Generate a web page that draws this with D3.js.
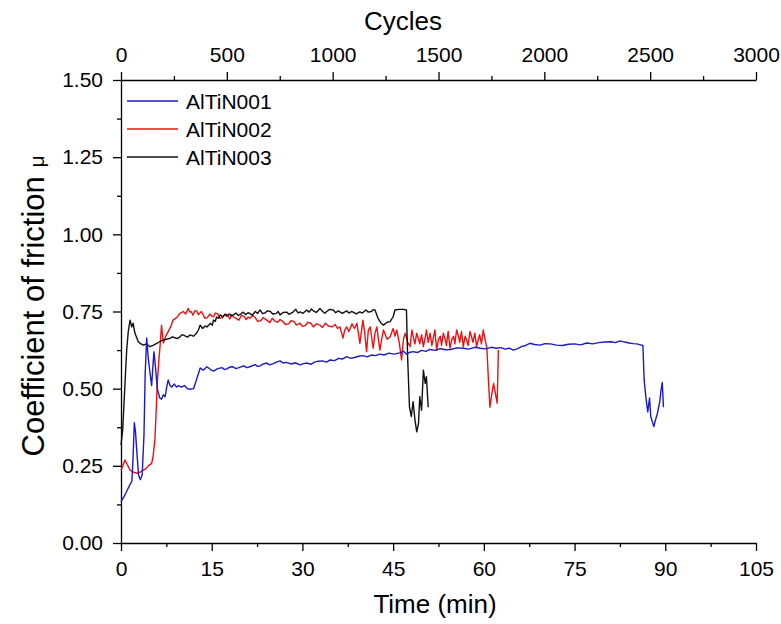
<!DOCTYPE html>
<html><head><meta charset="utf-8">
<script src="https://cdn.jsdelivr.net/npm/d3@7"></script>
<style>body{margin:0;background:#fff}svg{display:block}text{font-family:"Liberation Sans",Arial,sans-serif}</style>
</head><body>
<svg id="c" width="781" height="624"></svg>
<script>
const seriesNames = ["AlTiN001","AlTiN002","AlTiN003"];
const seriesColors = ["#1a1acc","#ee1111","#111111"];
const timeTicks = [0,15,30,45,60,75,90,105];
const cycleTicks = [0,500,1000,1500,2000,2500,3000];
const muTicks = [0,0.25,0.5,0.75,1.0,1.25,1.5];

const blue = [[0,0.134],[0.5,0.15],[1,0.17],[1.5,0.19],[1.8,0.2],[2.0,0.28],[2.2,0.39],[2.4,0.36],[2.6,0.30],[2.9,0.22],[3.2,0.205],[3.5,0.22],[3.8,0.35],[4.0,0.55],[4.25,0.664],[4.5,0.60],[4.8,0.55],[5.07,0.51],[5.3,0.58],[5.45,0.62],[5.7,0.57],[6.0,0.50],[6.4,0.47],[6.7,0.466],[7.0,0.48],[7.3,0.474],[7.6,0.51],[7.8,0.528],[8.1,0.51],[8.4,0.505],[8.8,0.515],[9.2,0.505],[9.5,0.51],[10,0.505],[10.5,0.51],[11,0.50],[11.4,0.498],[12,0.50],[12.5,0.53],[13.1,0.567],[13.6,0.56],[14.2,0.571],[14.8,0.562],[15.3,0.557],[16,0.565],[16.7,0.568],[17.1,0.562],[17.5,0.564],[18.0,0.57],[18.5,0.571],[19.0,0.565],[19.5,0.568],[20.3,0.574],[20.8,0.568],[21.3,0.571],[22.2,0.578],[22.6,0.572],[23,0.574],[23.5,0.58],[24.1,0.583],[24.6,0.577],[25.2,0.581],[25.7,0.586],[26.3,0.59],[26.8,0.583],[27.3,0.585],[28.2,0.58],[28.8,0.584],[29.6,0.577],[30.2,0.581],[30.8,0.583],[31.4,0.579],[32,0.586],[32.6,0.589],[33.3,0.59],[34,0.586],[34.6,0.593],[35.3,0.591],[36,0.598],[36.6,0.596],[37.3,0.604],[38,0.598],[38.6,0.601],[39.3,0.605],[40,0.607],[40.7,0.603],[41.4,0.609],[42.1,0.607],[42.8,0.612],[43.5,0.609],[44.3,0.615],[45.2,0.612],[46.1,0.616],[46.7,0.621],[47.2,0.612],[47.8,0.618],[48.3,0.62],[49,0.617],[49.7,0.624],[50.4,0.621],[51.1,0.627],[52,0.624],[52.8,0.63],[53.6,0.626],[54.5,0.627],[55.5,0.632],[56.6,0.631],[57.5,0.628],[58.5,0.634],[59.4,0.631],[60.3,0.629],[61.2,0.634],[62.1,0.631],[62.8,0.633],[63.5,0.628],[64.2,0.631],[64.9,0.625],[65.6,0.63],[66.2,0.636],[66.9,0.64],[67.6,0.647],[68.4,0.643],[69.3,0.641],[70.1,0.646],[71,0.645],[72,0.641],[73,0.64],[74,0.644],[75,0.645],[76,0.642],[77,0.648],[78,0.645],[79,0.649],[80,0.651],[81,0.652],[81.8,0.649],[82.5,0.655],[83.3,0.651],[84,0.648],[84.7,0.646],[85.3,0.645],[85.9,0.642],[86.3,0.64],[86.5,0.53],[86.8,0.47],[87.1,0.425],[87.4,0.47],[87.6,0.41],[88.1,0.377],[88.4,0.40],[88.7,0.42],[89.1,0.46],[89.3,0.496],[89.5,0.52],[89.7,0.44]];

const red = [[0,0.236],[0.3,0.25],[0.66,0.269],[1.0,0.255],[1.5,0.236],[2.0,0.23],[2.6,0.226],[3.2,0.23],[3.7,0.236],[4.1,0.24],[4.5,0.25],[5.07,0.258],[5.3,0.28],[5.6,0.334],[5.8,0.42],[6.0,0.518],[6.25,0.59],[6.45,0.636],[6.7,0.706],[7.0,0.648],[7.4,0.67],[7.8,0.685],[8.2,0.70],[8.6,0.722],[9.2,0.73],[9.75,0.744],[10.3,0.75],[10.7,0.742],[11.1,0.76],[11.4,0.748],[11.6,0.75],[11.9,0.738],[12.2,0.752],[12.5,0.752],[12.8,0.74],[13.0,0.744],[13.3,0.75],[13.6,0.738],[13.9,0.728],[14.3,0.73],[14.7,0.742],[15.0,0.735],[15.3,0.733],[15.6,0.745],[16,0.742],[16.4,0.728],[16.8,0.73],[17.2,0.742],[17.6,0.738],[18.0,0.726],[18.3,0.74],[18.6,0.733],[19.0,0.728],[19.5,0.722],[19.9,0.738],[20.3,0.735],[20.7,0.724],[21.0,0.732],[21.3,0.728],[21.8,0.737],[22.2,0.73],[22.6,0.718],[23.1,0.72],[23.5,0.73],[23.8,0.726],[24.1,0.722],[24.6,0.714],[25,0.728],[25.4,0.72],[25.9,0.715],[26.3,0.724],[26.8,0.717],[27.2,0.708],[27.7,0.71],[28.1,0.72],[28.6,0.718],[29.0,0.706],[29.6,0.712],[30.0,0.702],[30.5,0.705],[30.9,0.715],[31.4,0.712],[31.8,0.7],[32.3,0.71],[32.9,0.706],[33.3,0.698],[33.8,0.712],[34.3,0.703],[34.9,0.70],[35.4,0.708],[35.8,0.695],[36.2,0.70],[36.7,0.664],[37.0,0.69],[37.3,0.70],[37.7,0.685],[38.2,0.71],[38.6,0.695],[39,0.712],[39.5,0.647],[40,0.722],[40.3,0.68],[40.6,0.62],[40.9,0.69],[41.2,0.70],[41.7,0.631],[42.0,0.68],[42.3,0.70],[42.8,0.625],[43.1,0.66],[43.4,0.69],[43.7,0.675],[44,0.66],[44.5,0.668],[45,0.695],[45.3,0.67],[45.6,0.69],[46.0,0.65],[46.4,0.593],[46.7,0.66],[47,0.68],[47.4,0.65],[47.8,0.636],[48.1,0.69],[48.3,0.67],[48.6,0.645],[48.9,0.68],[49.2,0.66],[49.4,0.645],[49.7,0.675],[50,0.636],[50.3,0.665],[50.5,0.69],[50.8,0.65],[51.1,0.68],[51.4,0.64],[51.6,0.66],[51.9,0.69],[52.2,0.625],[52.5,0.66],[52.8,0.67],[53.0,0.64],[53.3,0.68],[53.6,0.66],[53.8,0.64],[54.1,0.685],[54.4,0.631],[54.7,0.66],[55,0.67],[55.2,0.645],[55.5,0.69],[55.8,0.67],[56,0.65],[56.3,0.685],[56.6,0.636],[56.9,0.67],[57.1,0.66],[57.4,0.64],[57.7,0.685],[58.0,0.665],[58.2,0.65],[58.5,0.68],[58.8,0.636],[59.1,0.66],[59.3,0.675],[59.6,0.645],[59.9,0.69],[60.2,0.66],[60.5,0.631],[60.7,0.55],[61,0.44],[61.3,0.48],[61.6,0.517],[61.8,0.496],[62.2,0.453],[62.4,0.625]];

const black = [[0,0.317],[0.28,0.366],[0.66,0.517],[0.94,0.625],[1.2,0.685],[1.5,0.722],[1.77,0.70],[2.0,0.712],[2.3,0.68],[2.86,0.652],[3.3,0.645],[3.7,0.641],[4.2,0.645],[4.8,0.636],[5.3,0.64],[5.9,0.647],[6.4,0.652],[7,0.658],[7.5,0.66],[8.1,0.663],[8.5,0.668],[8.9,0.665],[9.3,0.662],[9.75,0.668],[10.1,0.675],[10.5,0.672],[11.0,0.667],[11.4,0.674],[12,0.67],[12.5,0.68],[12.8,0.69],[13.1,0.706],[13.5,0.695],[13.9,0.703],[14.2,0.70],[14.6,0.708],[14.8,0.712],[15.1,0.705],[15.3,0.722],[15.6,0.718],[15.8,0.732],[16.1,0.728],[16.4,0.739],[16.8,0.733],[17.2,0.74],[17.5,0.735],[17.9,0.742],[18.3,0.736],[18.6,0.739],[19.0,0.745],[19.4,0.737],[19.8,0.742],[20.2,0.748],[20.6,0.74],[21.0,0.746],[21.3,0.744],[21.7,0.738],[22.2,0.75],[22.6,0.744],[23,0.755],[23.4,0.743],[23.8,0.745],[24.2,0.752],[24.7,0.75],[25.1,0.742],[25.7,0.744],[26.0,0.75],[26.3,0.739],[26.8,0.747],[27.4,0.748],[27.8,0.741],[28.5,0.749],[28.9,0.757],[29.3,0.745],[29.6,0.749],[30.1,0.744],[30.7,0.755],[31.1,0.748],[31.5,0.758],[31.8,0.752],[32.3,0.747],[32.9,0.76],[33.3,0.751],[33.7,0.744],[34,0.75],[34.5,0.757],[35.1,0.755],[35.5,0.746],[35.9,0.752],[36.2,0.749],[36.6,0.744],[37.3,0.752],[37.7,0.745],[38.1,0.75],[38.4,0.748],[38.9,0.742],[39.5,0.749],[39.9,0.745],[40.5,0.755],[40.9,0.748],[41.4,0.75],[41.7,0.756],[42,0.755],[42.5,0.728],[43.0,0.712],[43.4,0.706],[44,0.715],[44.5,0.717],[45,0.733],[45.3,0.755],[46,0.757],[46.7,0.757],[47.2,0.755],[47.4,0.60],[47.7,0.44],[48,0.41],[48.3,0.458],[48.6,0.40],[48.9,0.36],[49.2,0.388],[49.4,0.474],[49.7,0.43],[50,0.56],[50.3,0.517],[50.5,0.539],[50.8,0.44]];

const svg = d3.select("#c");
const L = 121, R = 756, T = 80, B = 543;
const x = d3.scaleLinear().domain([0,105]).range([L,R]);
const xc = d3.scaleLinear().domain([0,3000]).range([L,R]);
const y = d3.scaleLinear().domain([0,1.5]).range([B,T]);
const FONT = "Liberation Sans, Arial, sans-serif";

function styleAxis(g, size){
  g.selectAll("path").attr("stroke","#000").attr("stroke-width",1.3);
  g.selectAll("line").attr("stroke","#000").attr("stroke-width",1.3);
  g.selectAll("text").attr("font-size",size).attr("fill","#000").attr("font-family",FONT);
}
// minor ticks
const gxm = svg.append("g").attr("transform",`translate(0,${B})`)
  .call(d3.axisBottom(x).tickValues(d3.range(7.5,105,15)).tickSize(4).tickFormat(""));
const gx = svg.append("g").attr("transform",`translate(0,${B})`)
  .call(d3.axisBottom(x).tickValues(timeTicks).tickSize(8).tickPadding(10).tickSizeOuter(0).tickFormat(d3.format("d")));
const gtm = svg.append("g").attr("transform",`translate(0,${T})`)
  .call(d3.axisTop(xc).tickValues(d3.range(250,3000,500)).tickSize(4).tickFormat(""));
const gt = svg.append("g").attr("transform",`translate(0,${T})`)
  .call(d3.axisTop(xc).tickValues(cycleTicks).tickSize(8).tickPadding(10).tickSizeOuter(0).tickFormat(d3.format("d")));
const gym = svg.append("g").attr("transform",`translate(${L},0)`)
  .call(d3.axisLeft(y).tickValues(d3.range(0.125,1.5,0.25)).tickSize(4).tickFormat(""));
const gy = svg.append("g").attr("transform",`translate(${L},0)`)
  .call(d3.axisLeft(y).tickValues(muTicks).tickSize(8).tickPadding(10).tickSizeOuter(0).tickFormat(d3.format(".2f")));
[gxm,gtm,gym].forEach(g=>{styleAxis(g,0);g.select("path").remove();});
[gx,gt,gy].forEach(g=>styleAxis(g,21));

const line = d3.line().x(d=>x(d[0])).y(d=>y(d[1]));
const data = [red, black, blue];
const cols = [seriesColors[1], seriesColors[2], seriesColors[0]];
data.forEach((s,i)=>{
  svg.append("path").datum(s).attr("d",line).attr("fill","none")
    .attr("stroke",cols[i]).attr("stroke-width",1.4).attr("stroke-linejoin","round");
});

// legend
seriesNames.forEach((n,i)=>{
  const yy = 101 + i*28;
  svg.append("line").attr("x1",127).attr("x2",178).attr("y1",yy).attr("y2",yy)
    .attr("stroke",seriesColors[i]).attr("stroke-width",1.4);
  svg.append("text").attr("x",186).attr("y",yy).attr("dy","0.36em")
    .attr("font-size",21).text(n);
});

// titles
svg.append("text").attr("x",403).attr("y",30).attr("text-anchor","middle")
  .attr("font-size",26).text("Cycles");
svg.append("text").attr("x",435).attr("y",613).attr("text-anchor","middle")
  .attr("font-size",26).text("Time (min)");
const yt = svg.append("text").attr("transform",`translate(44,306) rotate(-90)`)
  .attr("text-anchor","middle").attr("font-size",31);
yt.append("tspan").text("Coefficient of friction ");
yt.append("tspan").attr("font-size",21).text("μ");
</script>
</body></html>
